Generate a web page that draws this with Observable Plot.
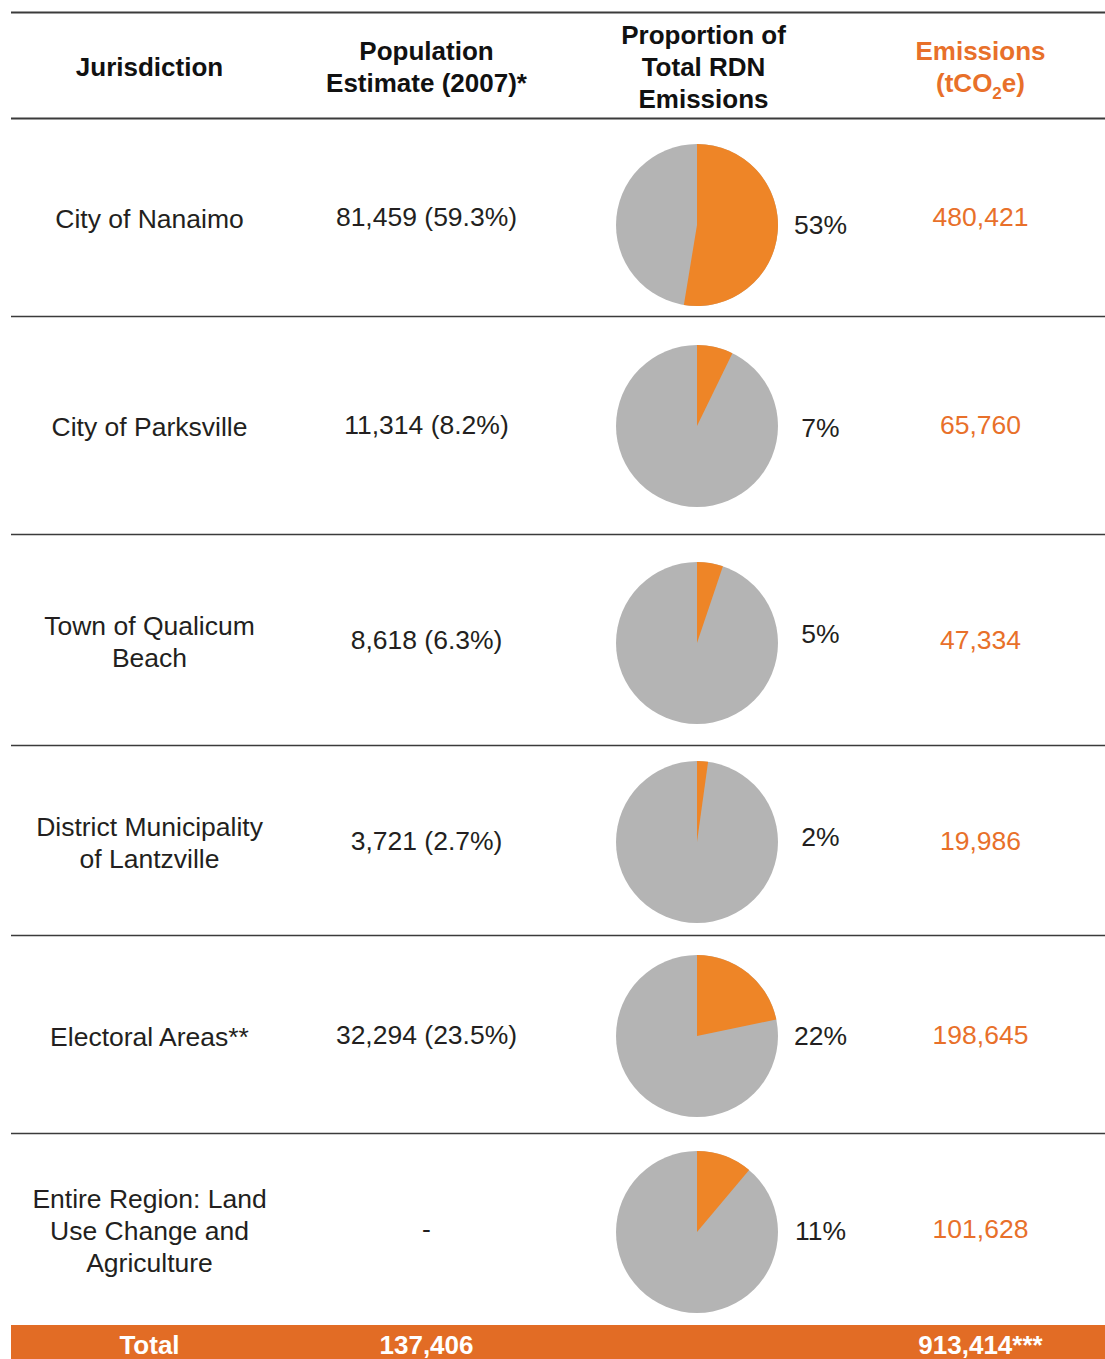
<!DOCTYPE html>
<html><head><meta charset="utf-8">
<script src="https://cdn.jsdelivr.net/npm/d3@7"></script>
<script src="https://cdn.jsdelivr.net/npm/@observablehq/plot@0.6"></script>
<style>html,body{margin:0;padding:0;background:#fff}</style>
</head><body><div id="chart"></div>
<script>
// ---- data ----
const jurisdictions = ["City of Nanaimo", "City of Parksville", "Town of Qualicum\nBeach", "District Municipality\nof Lantzville", "Electoral Areas**", "Entire Region: Land\nUse Change and\nAgriculture"];
const populationEstimates = [81459, 11314, 8618, 3721, 32294, null];
const populationShares = [59.3, 8.2, 6.3, 2.7, 23.5, null];
const emissionShareLabels = [53, 7, 5, 2, 22, 11];
const emissions = [480421, 65760, 47334, 19986, 198645, 101628];
const totalPopulation = 137406;
const totalEmissions = 913414;
const headers = ["Jurisdiction", "Population\nEstimate (2007)*", "Proportion of\nTotal RDN\nEmissions", "Emissions\n(tCO2e)"];

// ---- layout ----
const W = 1105, H = 1359;
const colX = {jur: 149, pop: 426, pie: 697, pct: 820, em: 980};
const headerX = [149, 426, 703, 980];
const headerY = 65;
const ruleYs = [316, 534, 745, 935, 1133];
const rowY = [217, 425, 640, 841, 1035, 1229];
const pieY = [225, 426, 643, 842, 1036, 1232];
const pctY = [225, 428, 634, 837, 1036, 1231];
const pieR = 81;
const totalY = 1345;
const ORANGE_TEXT = "#e8702a", PIE_ORANGE = "#ee8527", PIE_GRAY = "#b4b4b4", BAR = "#e26c25", INK = "#231f20";

const fmt = d3.format(",");
const rows = jurisdictions.map((j, i) => ({
  jurisdiction: j,
  population: populationEstimates[i] == null ? "-" : `${fmt(populationEstimates[i])} (${populationShares[i].toFixed(1)}%)`,
  share: emissionShareLabels[i] + "%",
  emissions: emissions[i],
  frac: emissions[i] / totalEmissions,
  y: rowY[i], py: pieY[i], ly: pctY[i]
}));
const headerRows = headers.map((h, i) => ({text: h, x: headerX[i], fill: i === 3 ? ORANGE_TEXT : "#111"}));
const totals = [{text: "Total", x: colX.jur}, {text: fmt(totalPopulation), x: colX.pop}, {text: fmt(totalEmissions) + "***", x: colX.em}];

function pies(index, scales) {
  const g = d3.create("svg:g");
  const arc = d3.arc().innerRadius(0).outerRadius(pieR);
  rows.forEach(r => {
    const cx = scales.x(colX.pie), cy = scales.y(r.py);
    g.append("circle").attr("cx", cx).attr("cy", cy).attr("r", pieR).attr("fill", PIE_GRAY);
    g.append("path").attr("transform", `translate(${cx},${cy})`)
      .attr("d", arc({startAngle: 0, endAngle: 2 * Math.PI * r.frac})).attr("fill", PIE_ORANGE);
  });
  return g.node();
}

const chart = Plot.plot({
  width: W, height: H,
  margin: 0,
  x: {domain: [0, W], range: [0, W], axis: null},
  y: {domain: [0, H], range: [0, H], axis: null},
  style: {fontFamily: "'Liberation Sans', Arial, Helvetica, sans-serif", background: "#fff"},
  marks: [
    Plot.ruleY([12, 118], {x1: 11, x2: W, stroke: "#3b3b3b", strokeWidth: 2}),
    Plot.ruleY(ruleYs, {x1: 11, x2: W, stroke: "#3b3b3b", strokeWidth: 1.3}),
    Plot.rect([0], {x1: 11, x2: W, y1: 1325, y2: H, fill: BAR}),
    Plot.text(headerRows, {x: "x", y: () => headerY, text: "text", fill: "fill", fontSize: 26, fontWeight: "bold", lineHeight: 1.23}),
    pies,
    Plot.text(rows, {x: () => colX.jur, y: "y", text: "jurisdiction", fontSize: 26.5, fill: INK, lineHeight: 1.21}),
    Plot.text(rows, {x: () => colX.pop, y: "y", text: "population", fontSize: 26.5, fill: INK}),
    Plot.text(rows, {x: () => colX.pct, y: "ly", text: "share", fontSize: 26.5, fill: INK}),
    Plot.text(rows, {x: () => colX.em, y: "y", text: d => fmt(d.emissions), fontSize: 26.5, fill: ORANGE_TEXT}),
    Plot.text(totals, {x: "x", y: () => totalY, text: "text", fontSize: 26, fontWeight: "bold", fill: "#fff"})
  ]
});
document.getElementById("chart").appendChild(chart);

// subscript in the CO2 unit
d3.select(chart).selectAll("text, tspan").filter(function() {
  return this.childElementCount === 0 && this.textContent === "(tCO2e)";
}).each(function() {
  const el = d3.select(this);
  el.text("(tCO");
  el.append("tspan").attr("dy", 7).attr("font-size", 17).text("2");
  el.append("tspan").attr("dy", -7).text("e)");
});
</script>
</body></html>
